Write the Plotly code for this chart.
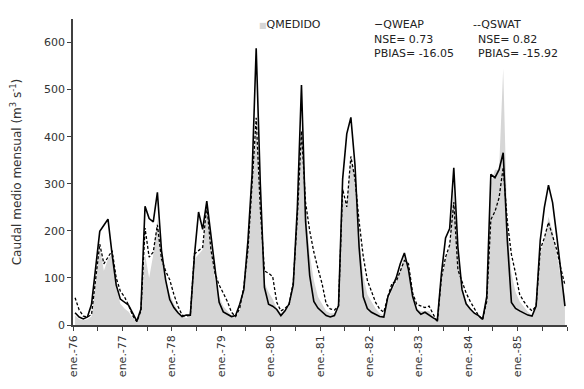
import plotly.graph_objects as go

years = ["76", "77", "78", "79", "80", "81", "82", "83", "84", "85"]
tick_labels = ["ene.-" + y for y in years]

q_weap = [
    26, 17, 13, 17, 44, 120, 199, 212, 225, 150, 85, 55,
    48, 42, 25, 8, 34, 252, 226, 219, 282, 158, 96, 54,
    37, 26, 18, 21, 21, 148, 240, 203, 263, 193, 117, 48,
    28, 23, 18, 20, 44, 75, 180, 320, 588, 300, 80, 44,
    40, 33, 20, 30, 45, 85, 250, 510, 220, 105, 50, 36,
    27, 20, 17, 20, 41, 310, 406, 441, 340, 165, 60, 35,
    27, 22, 18, 17, 60, 80, 100, 130, 153, 117, 61, 32,
    23, 27, 20, 15, 10, 110, 185, 205, 334, 165, 75, 45,
    34, 25, 20, 12, 60, 320, 313, 330, 366, 180, 48, 35,
    30, 25, 21, 19, 40, 180, 250, 297, 260, 190, 117, 40,
]
q_swat = [
    58, 32, 19, 17, 22, 94, 172, 130, 145, 158, 100, 72,
    60, 42, 20, 7, 30, 206, 144, 155, 213, 140, 115, 96,
    65, 40, 21, 19, 20, 151, 158, 165, 255, 160, 110, 85,
    68, 50, 27, 18, 35, 82, 160, 290, 440, 246, 115, 110,
    103, 48, 30, 35, 44, 90, 230, 412, 260, 200, 155, 120,
    88, 45, 34, 32, 40, 289, 251, 358, 310, 220, 146, 95,
    72, 48, 34, 27, 61, 89, 92, 115, 137, 130, 68, 44,
    41, 37, 40, 22, 6, 100, 144, 170, 261, 117, 90, 68,
    50, 35, 20, 12, 50, 224, 241, 270, 335, 220, 150, 110,
    65, 50, 38, 30, 40, 160, 185, 218, 190, 160, 120, 85,
]
q_medido = [
    20, 12, 10, 12, 18, 90, 165, 115, 140, 150, 80, 45,
    35, 28, 15, 8, 28, 150, 100, 150, 225, 150, 95, 65,
    45, 30, 18, 15, 18, 140, 150, 160, 255, 170, 95, 60,
    40, 30, 20, 15, 30, 75, 160, 290, 440, 240, 90, 70,
    55, 35, 25, 30, 40, 85, 220, 420, 250, 150, 95, 60,
    45, 30, 25, 25, 35, 270, 250, 360, 310, 190, 105, 65,
    50, 35, 25, 20, 50, 75, 90, 115, 148, 120, 60, 35,
    30, 30, 30, 18, 8, 95, 140, 165, 290, 140, 75, 45,
    35, 25, 18, 10, 50, 300, 330, 330, 545, 210, 110, 70,
    50, 38, 28, 20, 35, 150, 180, 230, 200, 150, 100, 60,
]

n = len(q_weap)
x = [i + 0.5 for i in range(n)]

FONT = "DejaVu Sans"
GRAY = "#d6d6d6"
fig = go.Figure()
fig.add_trace(go.Scatter(x=x, y=q_medido, mode="lines", fill="tozeroy",
                         line=dict(width=0, color=GRAY), fillcolor=GRAY,
                         name="QMEDIDO", showlegend=False))
fig.add_trace(go.Scatter(x=x, y=q_swat, mode="lines",
                         line=dict(width=1.3, color="black", dash="3px,2px"),
                         name="QSWAT", showlegend=False))
fig.add_trace(go.Scatter(x=x, y=q_weap, mode="lines",
                         line=dict(width=1.6, color="black"),
                         name="QWEAP", showlegend=False))

major = list(range(0, n, 12))
minor = list(range(6, n + 1, 12)) + [n]

L, R, T, B = 73, 17, 19, 56
W, H = 584, 389
PW, PH = W - L - R, H - T - B

fig.update_layout(
    width=W, height=H,
    margin=dict(l=L, r=R, t=T, b=B),
    paper_bgcolor="white", plot_bgcolor="white",
    font=dict(family=FONT, size=11, color="#333333"),
    xaxis=dict(range=[0, n], tickvals=major, ticktext=tick_labels, tickangle=-90,
               showgrid=False, zeroline=False, showline=True, linecolor="#404040",
               linewidth=1.5, ticks="outside", ticklen=4, tickcolor="#404040",
               minor=dict(tickvals=minor, ticks="outside", ticklen=4, tickcolor="#404040",
                          showgrid=False),
               tickfont=dict(size=11, color="#333333")),
    yaxis=dict(range=[0, 650], tickvals=[0, 100, 200, 300, 400, 500, 600],
               showgrid=False, zeroline=False, showline=True, linecolor="#404040",
               linewidth=1.5, ticks="outside", ticklen=4, tickcolor="#404040",
               tickfont=dict(size=11, color="#333333"),
               title=dict(text="Caudal medio mensual (m<sup>3</sup> s<sup>-1</sup>)",
                          font=dict(size=12, color="#333333"), standoff=20)),
)

ann = [
    ("<span style='color:#d6d6d6;font-size:8px'>■</span>QMEDIDO", 257, 25),
    ("−QWEAP", 372, 25),
    ("NSE= 0.73", 372, 40),
    ("PBIAS= -16.05", 372, 54),
    ("--QSWAT", 471, 25),
    ("NSE= 0.82", 476, 40),
    ("PBIAS= -15.92", 476, 54),
]
for text, px, py in ann:
    fig.add_annotation(text=text, x=(px - L) / PW, y=(H - B - py) / PH,
                       xref="paper", yref="paper",
                       xanchor="left", yanchor="middle", showarrow=False,
                       font=dict(family=FONT, size=11, color="#222222"))

fig.write_html("out.html", config={"displayModeBar": False},
               post_script="document.body.style.margin='0';")
